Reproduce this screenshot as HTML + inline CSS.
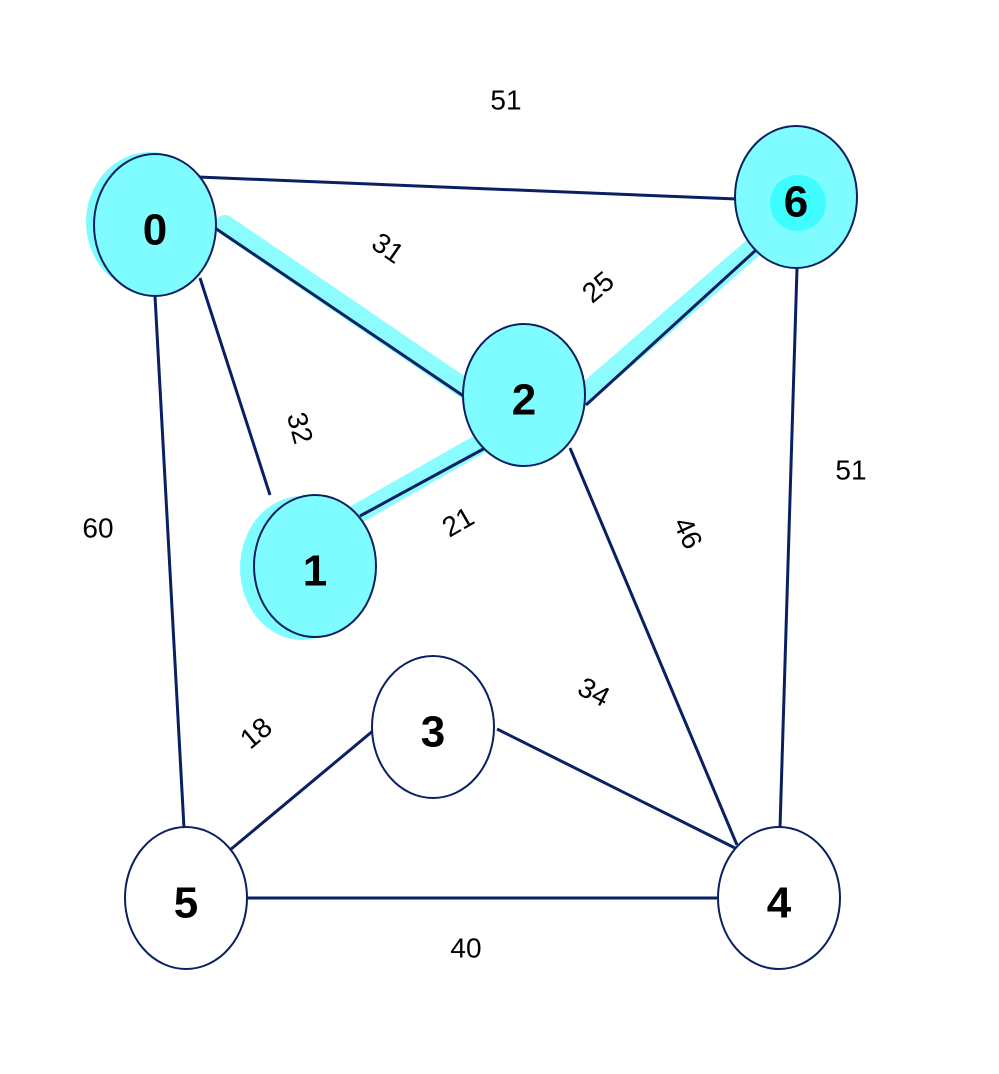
<!DOCTYPE html>
<html><head><meta charset="utf-8"><style>
html,body{margin:0;padding:0;background:#fff}
svg{display:block}
text{font-family:"Liberation Sans Narrow","Liberation Sans",sans-serif;fill:#000}
.n{font-size:44px;font-weight:bold;text-anchor:middle;dominant-baseline:central}
.l{font-size:28px;text-anchor:middle;dominant-baseline:central}
</style></head><body>
<svg width="999" height="1074" viewBox="0 0 999 1074" xmlns="http://www.w3.org/2000/svg">
<g stroke="#7ffcff" stroke-width="20" stroke-linecap="round" fill="none" opacity="0.9">
<line x1="225" y1="225" x2="470" y2="392"/>
<line x1="580" y1="398" x2="762" y2="240"/>
<line x1="350" y1="518" x2="490" y2="438"/>
</g>
<g fill="#7ffcff" stroke="none">
<ellipse cx="150" cy="222" rx="64" ry="70"/>
<ellipse cx="302" cy="568" rx="62" ry="72"/>
</g>
<g stroke="#0a2063" stroke-width="3" fill="none">
<line x1="198" y1="177" x2="737" y2="199"/>
<line x1="215" y1="228" x2="465" y2="397"/>
<line x1="200" y1="278" x2="270" y2="495"/>
<line x1="155" y1="296" x2="184" y2="828"/>
<line x1="586" y1="405" x2="756" y2="250"/>
<line x1="360" y1="516" x2="487" y2="447"/>
<line x1="570" y1="448" x2="737" y2="845"/>
<line x1="797" y1="268" x2="780" y2="828"/>
<line x1="230" y1="850" x2="374" y2="730"/>
<line x1="497" y1="729" x2="735" y2="848"/>
<line x1="248" y1="898" x2="717" y2="898"/>
</g>
<g stroke="#0a2063" stroke-width="2">
<ellipse cx="155" cy="225" rx="61" ry="71" fill="#7ffcff"/>
<ellipse cx="796" cy="197" rx="61" ry="71" fill="#7ffcff"/>
<ellipse cx="524" cy="395" rx="61" ry="71" fill="#7ffcff"/>
<ellipse cx="315" cy="566" rx="61" ry="71" fill="#7ffcff"/>
<ellipse cx="433" cy="727" rx="61" ry="71" fill="#fff"/>
<ellipse cx="186" cy="898" rx="61" ry="71" fill="#fff"/>
<ellipse cx="779" cy="898" rx="61" ry="71" fill="#fff"/>
</g>
<circle cx="798" cy="203" r="28" fill="#3ffcff"/>
<text class="n" x="155" y="230">0</text>
<text class="n" x="796" y="202">6</text>
<text class="n" x="524" y="400">2</text>
<text class="n" x="315" y="571">1</text>
<text class="n" x="433" y="732">3</text>
<text class="n" x="186" y="903">5</text>
<text class="n" x="779" y="903">4</text>
<text class="l" x="506" y="100">51</text>
<text class="l" x="388" y="248" transform="rotate(35 388 248)">31</text>
<text class="l" x="598" y="287" transform="rotate(-40 598 287)">25</text>
<text class="l" x="300" y="428" transform="rotate(75 300 428)">32</text>
<text class="l" x="98" y="528">60</text>
<text class="l" x="458" y="522" transform="rotate(-30 458 522)">21</text>
<text class="l" x="688" y="533" transform="rotate(65 688 533)">46</text>
<text class="l" x="851" y="470">51</text>
<text class="l" x="594" y="692" transform="rotate(28 594 692)">34</text>
<text class="l" x="256" y="733" transform="rotate(-40 256 733)">18</text>
<text class="l" x="466" y="948">40</text>
</svg>
</body></html>
